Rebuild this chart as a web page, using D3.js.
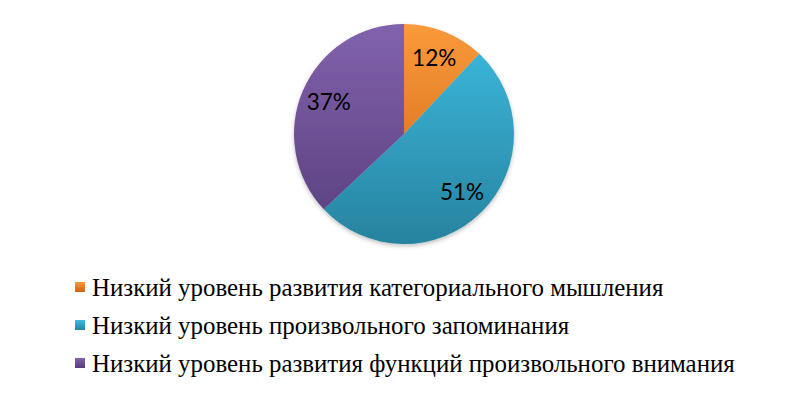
<!DOCTYPE html>
<html>
<head>
<meta charset="utf-8">
<script src="https://cdn.jsdelivr.net/npm/d3@7"></script>
<style>
  html, body { margin: 0; padding: 0; background: #fff; }
</style>
</head>
<body>
<div id="chart"></div>
<script>
const categories = [
  'Низкий уровень развития категориального мышления',
  'Низкий уровень произвольного запоминания',
  'Низкий уровень развития функций произвольного внимания'
]
const values = [12, 51, 37]
const colorsTop = ['#fa9a3a', '#3dbbe0', '#8262ad']
const colorsBottom = ['#cc6214', '#27839f', '#573e7c']

const width = 808,
  height = 397,
  cx = 404,
  cy = 134,
  radius = 110

const svg = d3
  .select('#chart')
  .append('svg')
  .attr('width', width)
  .attr('height', height)

const defs = svg.append('defs')

// vertical gradient per slice, spanning the whole pie (local coords of the pie group)
colorsTop.forEach((c, i) => {
  const grad = defs
    .append('linearGradient')
    .attr('id', `grad${i}`)
    .attr('gradientUnits', 'userSpaceOnUse')
    .attr('x1', 0)
    .attr('y1', -radius)
    .attr('x2', 0)
    .attr('y2', radius)
  grad.append('stop').attr('offset', '0%').attr('stop-color', c)
  grad.append('stop').attr('offset', '100%').attr('stop-color', colorsBottom[i])
})

const legendGrad = colorsTop.map((c, i) => {
  const g = defs
    .append('linearGradient')
    .attr('id', `lgrad${i}`)
    .attr('x1', 0)
    .attr('y1', 0)
    .attr('x2', 0)
    .attr('y2', 1)
  g.append('stop').attr('offset', '0%').attr('stop-color', c)
  g.append('stop').attr('offset', '100%').attr('stop-color', colorsBottom[i])
  return `url(#lgrad${i})`
})

const filter = defs
  .append('filter')
  .attr('id', 'shadow')
  .attr('x', '-20%')
  .attr('y', '-20%')
  .attr('width', '140%')
  .attr('height', '140%')
filter
  .append('feDropShadow')
  .attr('dx', 0)
  .attr('dy', 2)
  .attr('stdDeviation', 2)
  .attr('flood-color', '#000')
  .attr('flood-opacity', 0.25)

const pieG = svg
  .append('g')
  .attr('transform', `translate(${cx}, ${cy})`)

const pie = d3.pie().sort(null).value(d => d)
const arc = d3.arc().innerRadius(0).outerRadius(radius)
const labelArc = d3.arc().innerRadius(82).outerRadius(82)

const total = d3.sum(values)

pieG
  .append('g')
  .attr('filter', 'url(#shadow)')
  .selectAll('path')
  .data(pie(values))
  .enter()
  .append('path')
  .attr('d', arc)
  .attr('fill', (d, i) => `url(#grad${i})`)

pieG
  .selectAll('text')
  .data(pie(values))
  .enter()
  .append('text')
  .attr('transform', d => `translate(${labelArc.centroid(d)})`)
  .attr('text-anchor', 'middle')
  .attr('dy', '0.36em')
  .attr('font-family', 'Lato')
  .attr('font-size', 22.5)
  .attr('fill', '#000')
  .text(d => `${Math.round((d.data / total) * 100)}%`)

// legend
const legendY = d3
  .scalePoint()
  .domain(categories)
  .range([296, 372])

const legend = svg
  .append('g')
  .selectAll('g')
  .data(categories)
  .enter()
  .append('g')
  .attr('transform', d => `translate(0, ${legendY(d)})`)

legend
  .append('rect')
  .attr('x', 75)
  .attr('y', -14)
  .attr('width', 10)
  .attr('height', 10)
  .attr('fill', (d, i) => legendGrad[i])

legend
  .append('text')
  .attr('x', 92)
  .attr('y', 0)
  .attr('font-family', 'Liberation Serif')
  .attr('font-size', 24.9)
  .attr('fill', '#000')
  .text(d => d)
</script>
</body>
</html>
